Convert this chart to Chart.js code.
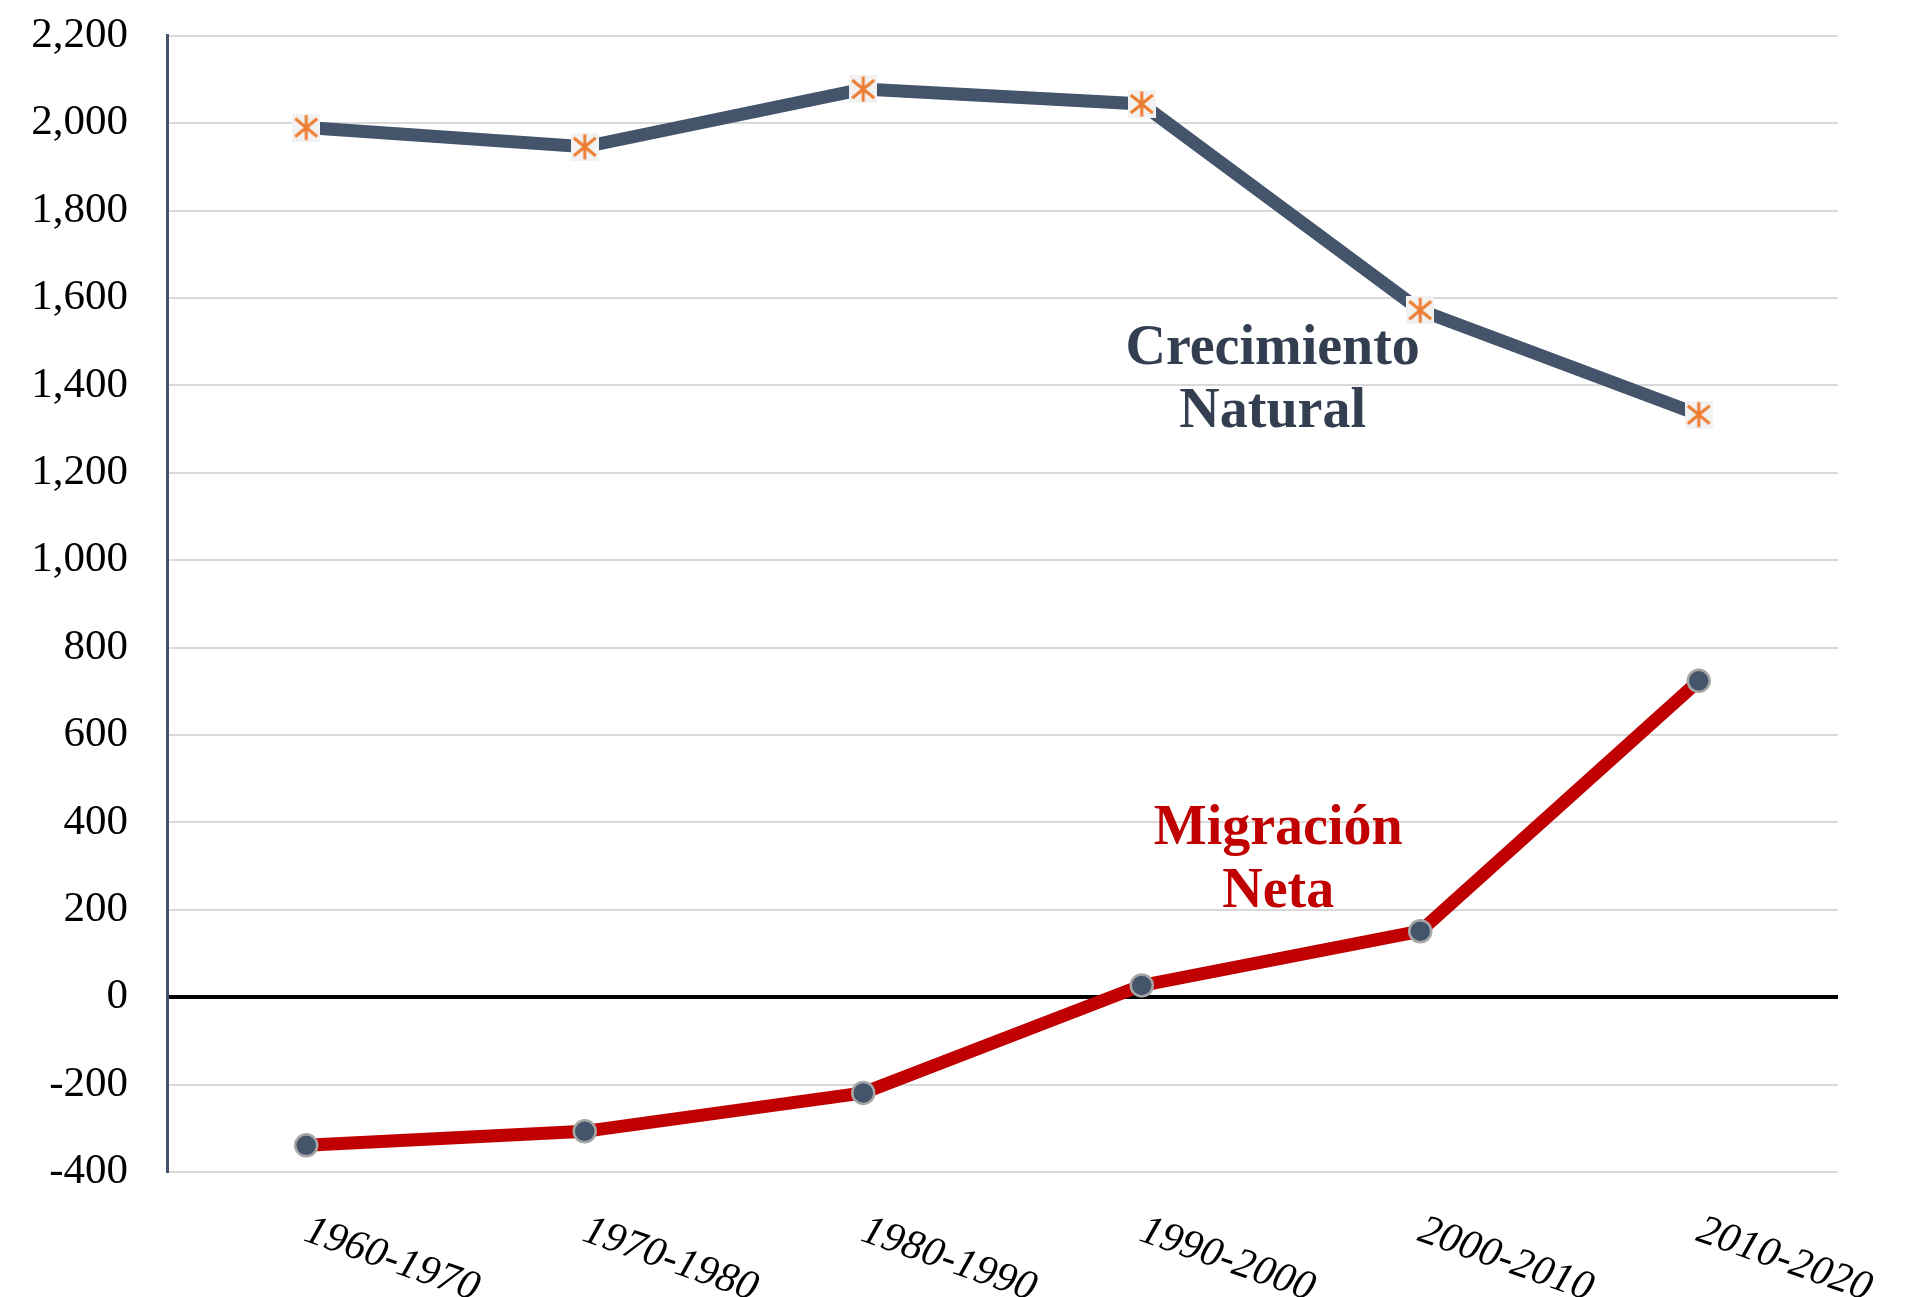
<!DOCTYPE html>
<html>
<head>
<meta charset="utf-8">
<script src="https://cdn.jsdelivr.net/npm/chart.js@4"></script>
<style>
  html, body { margin: 0; padding: 0; background: #ffffff; overflow: hidden; }
  #wrap { width: 1921px; height: 1326px; margin-top: -29px; position: relative; }
</style>
</head>
<body>
<div id="wrap"><canvas id="c"></canvas></div>
<script>
const categories = ['1960-1970', '1970-1980', '1980-1990', '1990-2000', '2000-2010', '2010-2020'];
const crecimientoNatural = [1990, 1946, 2078, 2044, 1572, 1333];
const migracionNeta = [-339, -307, -219, 27, 151, 724];
const yTicksMin = -400;
const yTicksMax = 2200;
const yTickStep = 200;
const labelCrecimiento = ['Crecimiento', 'Natural'];
const labelMigracion = ['Migración', 'Neta'];

const SERIF = "'Liberation Serif', 'Times New Roman', 'DejaVu Serif', serif";

// custom star marker (Excel style): light grey square with orange asterisk
function makeStar() {
  const s = 28;
  const cv = document.createElement('canvas');
  cv.width = s; cv.height = s;
  const g = cv.getContext('2d');
  g.fillStyle = '#F2F2F2';
  g.fillRect(0, 0, s, s);
  g.strokeStyle = '#ED7D31';
  g.lineWidth = 3;
  g.lineCap = 'butt';
  g.beginPath();
  g.moveTo(s / 2, 1.5); g.lineTo(s / 2, s - 1.5);
  g.moveTo(3, 5); g.lineTo(s - 3, s - 5);
  g.moveTo(3, s - 5); g.lineTo(s - 3, 5);
  g.stroke();
  return cv;
}
const starMarker = makeStar();

const textPlugin = {
  id: 'textPlugin',
  afterDraw(chart) {
    const ctx = chart.ctx;
    const xs = chart.scales.x;
    const ys = chart.scales.y;
    // rotated italic category labels
    ctx.save();
    ctx.font = "italic 42px " + SERIF;
    ctx.fillStyle = '#000000';
    ctx.textAlign = 'left';
    ctx.textBaseline = 'alphabetic';
    categories.forEach((c, i) => {
      const x = xs.getPixelForValue(i);
      ctx.save();
      ctx.translate(x - 4, ys.bottom + 68);
      ctx.rotate(19.5 * Math.PI / 180);
      ctx.fillText(c, 0, 0);
      ctx.restore();
    });
    ctx.restore();

    // series annotations
    ctx.save();
    ctx.font = "bold 56px " + SERIF;
    ctx.textAlign = 'center';
    ctx.textBaseline = 'alphabetic';
    ctx.fillStyle = '#333F50';
    const cx1 = xs.getPixelForValue(3.47);
    ctx.fillText(labelCrecimiento[0], cx1, ys.getPixelForValue(1450));
    ctx.fillText(labelCrecimiento[1], cx1, ys.getPixelForValue(1305));
    ctx.fillStyle = '#C00000';
    const cx2 = xs.getPixelForValue(3.49);
    ctx.fillText(labelMigracion[0], cx2, ys.getPixelForValue(350));
    ctx.fillText(labelMigracion[1], cx2, ys.getPixelForValue(207));
    ctx.restore();
  }
};

new Chart(document.getElementById('c'), {
  type: 'line',
  data: {
    labels: categories,
    datasets: [
      {
        label: 'Crecimiento Natural',
        data: crecimientoNatural,
        borderColor: '#44546A',
        backgroundColor: '#44546A',
        borderWidth: 13,
        tension: 0,
        pointStyle: starMarker,
        pointRadius: 14,
        pointHoverRadius: 14
      },
      {
        label: 'Migración Neta',
        data: migracionNeta,
        borderColor: '#C00000',
        backgroundColor: '#C00000',
        borderWidth: 13,
        tension: 0,
        pointStyle: 'circle',
        pointRadius: 11,
        pointHoverRadius: 11,
        pointBackgroundColor: '#44546A',
        pointBorderColor: '#A6A6A6',
        pointBorderWidth: 2.5
      }
    ]
  },
  options: {
    responsive: true,
    maintainAspectRatio: false,
    animation: false,
    events: [],
    layout: { padding: { left: 0, right: 83, top: 3, bottom: 125 } },
    plugins: {
      legend: { display: false },
      title: { display: false },
      tooltip: { enabled: false }
    },
    scales: {
      x: {
        type: 'category',
        offset: true,
        grid: { display: false, drawTicks: false },
        border: { display: false },
        ticks: { display: false }
      },
      y: {
        min: yTicksMin,
        max: yTicksMax,
        afterFit(scale) { scale.width = 167; },
        ticks: {
          stepSize: yTickStep,
          padding: 39,
          color: '#000000',
          font: { family: SERIF, size: 43 },
          callback: (v) => Number(v).toLocaleString('en-US')
        },
        grid: {
          drawTicks: false,
          color: (c) => (c.tick && c.tick.value === 0) ? '#000000' : '#D9D9D9',
          lineWidth: (c) => (c.tick && c.tick.value === 0) ? 4 : 2
        },
        border: { display: true, color: '#44546A', width: 3 }
      }
    }
  },
  plugins: [textPlugin]
});
</script>
</body>
</html>
